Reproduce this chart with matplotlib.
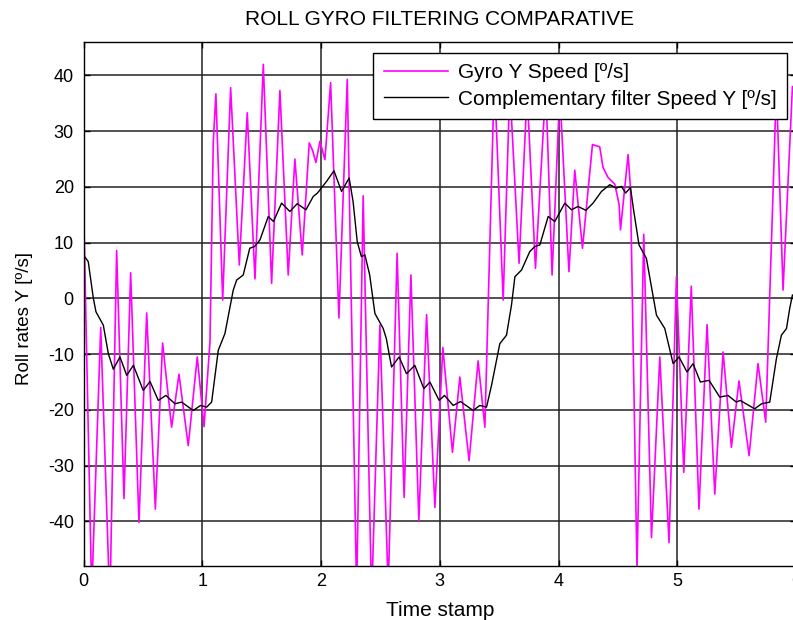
import matplotlib
matplotlib.use('Agg')
import matplotlib.pyplot as plt

plt.rcParams['font.family'] = ['Liberation Sans', 'DejaVu Sans']
plt.rcParams['axes.unicode_minus'] = False

# gyro Y rate (magenta) - peaks/troughs read per half period
gyro_t = [0.0, 0.069, 0.145, 0.222, 0.279, 0.341, 0.397, 0.467, 0.532, 0.605,
          0.666, 0.742, 0.804, 0.882, 0.958, 1.015, 1.065, 1.093, 1.115, 1.172,
          1.239, 1.312, 1.379, 1.444, 1.514, 1.584, 1.654, 1.724, 1.780, 1.842,
          1.901, 1.930, 1.957, 1.991, 2.033, 2.081, 2.151, 2.221, 2.300, 2.355,
          2.426, 2.496, 2.566, 2.641, 2.700, 2.757, 2.824, 2.889, 2.959, 3.026,
          3.107, 3.169, 3.247, 3.323, 3.380, 3.460, 3.534, 3.590, 3.668, 3.736,
          3.806, 3.893, 3.946, 4.011, 4.088, 4.137, 4.202, 4.286, 4.347, 4.375,
          4.417, 4.474, 4.510, 4.522, 4.586, 4.606, 4.661, 4.718, 4.783, 4.853,
          4.931, 4.993, 5.055, 5.118, 5.183, 5.251, 5.316, 5.386, 5.456, 5.520,
          5.605, 5.680, 5.745, 5.835, 5.891, 5.970]
gyro_y = [17.2, -53.0, -5.2, -55.0, 8.6, -35.9, 4.6, -40.2, -2.6, -37.8,
          -8.0, -23.1, -13.6, -26.4, -10.5, -23.0, -7.8, 28.2, 36.7, -0.3,
          37.8, 6.0, 33.3, 3.5, 42.0, 2.7, 37.3, 4.2, 25.0, 7.8,
          27.9, 26.5, 24.4, 28.2, 24.9, 38.7, -3.5, 39.3, -53.0, 18.4,
          -54.0, -4.8, -52.0, 8.1, -35.7, 4.2, -39.9, -2.9, -37.5, -8.8,
          -27.6, -14.1, -29.1, -11.2, -23.1, 40.0, -0.3, 38.0, 6.3, 37.0,
          5.4, 38.0, 4.2, 37.0, 4.8, 23.0, 9.0, 27.6, 27.2, 23.5,
          21.7, 20.5, 16.9, 12.3, 25.8, 19.8, -48.5, 11.5, -42.9, -10.5,
          -43.8, 3.9, -31.2, 2.2, -37.8, -4.7, -35.1, -9.6, -26.7, -14.8,
          -28.2, -11.7, -22.2, 38.0, 1.5, 38.0]

# complementary filter output (black)
filt_t = [0.0, 0.04, 0.083, 0.105, 0.167, 0.209, 0.251, 0.307, 0.364, 0.42,
          0.503, 0.56, 0.63, 0.694, 0.77, 0.826, 0.924, 0.986, 1.037, 1.079,
          1.135, 1.191, 1.261, 1.29, 1.345, 1.40, 1.44, 1.486, 1.556, 1.60,
          1.668, 1.738, 1.80, 1.873, 1.935, 1.97, 2.047, 2.109, 2.173, 2.237,
          2.27, 2.305, 2.34, 2.37, 2.41, 2.454, 2.524, 2.55, 2.594, 2.658,
          2.72, 2.79, 2.866, 2.917, 2.995, 3.04, 3.113, 3.175, 3.281, 3.337,
          3.394, 3.436, 3.506, 3.562, 3.604, 3.633, 3.689, 3.758, 3.80, 3.843,
          3.913, 3.969, 4.053, 4.109, 4.165, 4.23, 4.291, 4.362, 4.432, 4.488,
          4.53, 4.565, 4.606, 4.63, 4.678, 4.74, 4.825, 4.895, 4.965, 5.015,
          5.082, 5.133, 5.195, 5.268, 5.358, 5.427, 5.498, 5.53, 5.652, 5.71,
          5.779, 5.835, 5.877, 5.92, 5.947, 5.97]
filt_y = [7.8, 6.6, 0.0, -2.4, -4.8, -9.9, -12.7, -10.5, -13.8, -12.0,
          -16.5, -14.9, -18.3, -17.4, -18.9, -18.6, -20.1, -19.2, -19.5, -18.6,
          -9.3, -6.3, 1.5, 3.3, 4.2, 9.0, 9.3, 10.5, 14.7, 13.8,
          17.1, 15.6, 17.0, 15.9, 18.3, 18.9, 21.0, 22.9, 19.2, 21.6,
          17.4, 10.2, 7.5, 7.8, 4.2, -2.7, -5.4, -7.2, -12.3, -10.5,
          -13.5, -12.0, -16.2, -15.0, -18.3, -17.4, -19.2, -18.5, -20.1, -19.2,
          -19.5, -15.6, -8.1, -6.6, -1.2, 3.9, 5.1, 8.4, 9.3, 9.6,
          14.7, 13.8, 17.1, 15.9, 16.5, 15.8, 17.1, 19.2, 20.4, 19.8,
          20.1, 18.9, 19.9, 16.2, 9.6, 7.2, -3.0, -5.4, -11.7, -10.5,
          -13.2, -11.7, -15.0, -14.7, -17.7, -17.4, -18.6, -18.3, -19.8, -18.9,
          -18.6, -10.8, -6.6, -5.4, -1.8, 0.6]

x_ticks = [0, 1, 2, 3, 4, 5, 6]
y_ticks = [-40, -30, -20, -10, 0, 10, 20, 30, 40]

fig = plt.figure(figsize=(7.93, 6.2), dpi=100)
ax = fig.add_axes([83.5 / 793, 54 / 620, 712.5 / 793, 524 / 620])

ax.plot(gyro_t, gyro_y, color='#ff00ff', lw=1.2, label='Gyro Y Speed [º/s]')
ax.plot(filt_t, filt_y, color='black', lw=1.0, label='Complementary filter Speed Y [º/s]')

ax.set_xlim(0, 6)
ax.set_ylim(-48, 46)
ax.set_xticks(x_ticks)
ax.set_yticks(y_ticks)
ax.grid(True, color='#222222', lw=1.1, ls='-')
ax.set_axisbelow(True)
ax.tick_params(direction='in', top=True, right=True, length=4, width=1,
               labelsize=13, pad=5)
ax.tick_params(axis='y', pad=7)
for s in ax.spines.values():
    s.set_linewidth(1.0)

ax.set_title('ROLL GYRO FILTERING COMPARATIVE', fontsize=15, pad=12)
ax.set_xlabel('Time stamp', fontsize=15, labelpad=8)
ax.set_ylabel('Roll rates Y [º/s]', fontsize=13.5)
ax.yaxis.set_label_coords(-0.071, 0.473)

leg = ax.legend(loc='upper right', bbox_to_anchor=(0.987, 0.979), borderaxespad=0,
                fontsize=15, handlelength=3.1, handletextpad=0.45, borderpad=0.5,
                labelspacing=0.35, fancybox=False, framealpha=1, edgecolor='black')
leg.get_frame().set_linewidth(1.0)

fig.savefig('out.png', dpi=100)
